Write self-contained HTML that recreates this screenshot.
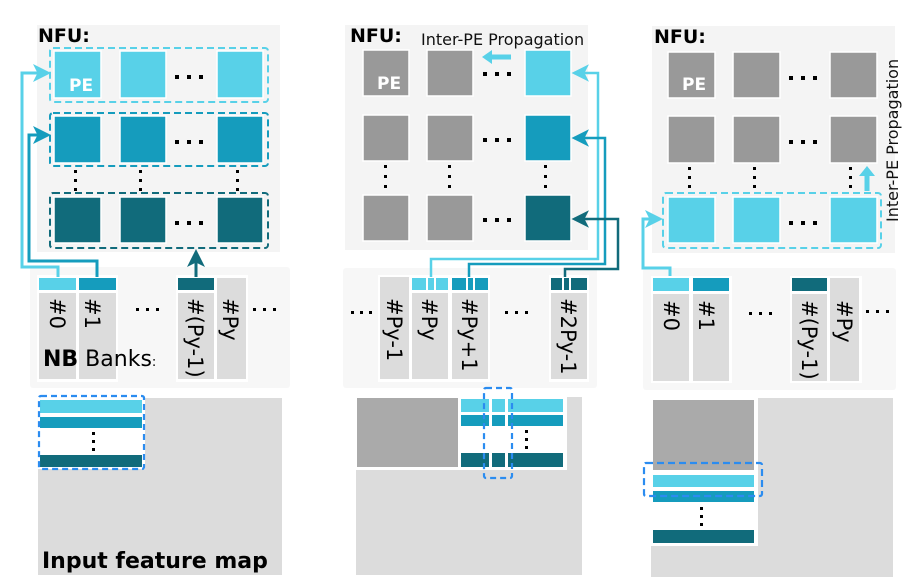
<!DOCTYPE html>
<html><head><meta charset="utf-8"><style>
html,body{margin:0;padding:0;background:#fff;}
svg{display:block;font-family:"DejaVu Sans","Liberation Sans",sans-serif;}
</style></head><body>
<svg width="920" height="580" viewBox="0 0 920 580" xmlns="http://www.w3.org/2000/svg">
<defs>
<marker id="aL" markerWidth="6" markerHeight="6" refX="5" refY="3" orient="auto" markerUnits="strokeWidth"><path d="M0,0 L6,3 L0,6 L1.5,3 z" fill="#58d1e8"/></marker>
<marker id="aM" markerWidth="6" markerHeight="6" refX="5" refY="3" orient="auto" markerUnits="strokeWidth"><path d="M0,0 L6,3 L0,6 L1.5,3 z" fill="#159cbd"/></marker>
<marker id="aD" markerWidth="6" markerHeight="6" refX="5" refY="3" orient="auto" markerUnits="strokeWidth"><path d="M0,0 L6,3 L0,6 L1.5,3 z" fill="#116b7b"/></marker>
<marker id="bL" markerWidth="7" markerHeight="7" refX="6" refY="3.5" orient="auto" markerUnits="strokeWidth"><path d="M0,0 L7,3.5 L0,7 L1.8,3.5 z" fill="#58d1e8"/></marker>
<marker id="bM" markerWidth="7" markerHeight="7" refX="6" refY="3.5" orient="auto" markerUnits="strokeWidth"><path d="M0,0 L7,3.5 L0,7 L1.8,3.5 z" fill="#159cbd"/></marker>
<marker id="bD" markerWidth="7" markerHeight="7" refX="6" refY="3.5" orient="auto" markerUnits="strokeWidth"><path d="M0,0 L7,3.5 L0,7 L1.8,3.5 z" fill="#116b7b"/></marker>
</defs>
<!-- ===== PANEL 1 ===== -->
<rect x="37" y="25" width="243" height="227" fill="#f4f4f4"/>
<text x="38" y="42" font-size="19" font-weight="bold" fill="#000">NFU:</text>
<g stroke="#fff" stroke-width="1.5">
<rect x="54" y="51" width="47" height="47" fill="#58d1e8"/><rect x="120" y="51" width="46" height="47" fill="#58d1e8"/><rect x="217" y="51" width="46" height="47" fill="#58d1e8"/>
<rect x="54" y="116" width="47" height="47" fill="#159cbd"/><rect x="120" y="116" width="46" height="47" fill="#159cbd"/><rect x="217" y="116" width="46" height="47" fill="#159cbd"/>
<rect x="54" y="197" width="47" height="46" fill="#116b7b"/><rect x="120" y="197" width="46" height="46" fill="#116b7b"/><rect x="217" y="197" width="46" height="46" fill="#116b7b"/>
</g>
<text x="69" y="91" font-size="17" font-weight="bold" fill="#fff">PE</text>
<rect x="50" y="48" width="218" height="54" rx="3" fill="none" stroke="#58d1e8" stroke-width="2" stroke-dasharray="7,4"/>
<rect x="50" y="113" width="218" height="53" rx="3" fill="none" stroke="#159cbd" stroke-width="2" stroke-dasharray="7,4"/>
<rect x="50" y="193" width="218" height="55" rx="3" fill="none" stroke="#116b7b" stroke-width="2" stroke-dasharray="7,4"/>
<g fill="#000">
<rect x="175" y="75" width="4" height="4"/><rect x="187" y="75" width="4" height="4"/><rect x="199" y="75" width="4" height="4"/>
<rect x="175" y="140" width="4" height="4"/><rect x="187" y="140" width="4" height="4"/><rect x="199" y="140" width="4" height="4"/>
<rect x="175" y="221" width="4" height="4"/><rect x="187" y="221" width="4" height="4"/><rect x="199" y="221" width="4" height="4"/>
<rect x="74" y="170" width="3" height="3"/><rect x="74" y="179" width="3" height="3"/><rect x="74" y="188" width="3" height="3"/>
<rect x="139" y="170" width="3" height="3"/><rect x="139" y="179" width="3" height="3"/><rect x="139" y="188" width="3" height="3"/>
<rect x="236" y="170" width="3" height="3"/><rect x="236" y="179" width="3" height="3"/><rect x="236" y="188" width="3" height="3"/>
</g>
<rect x="30" y="267" width="260" height="121" rx="3" fill="#f7f7f7"/>
<rect x="37" y="275" width="81" height="107" fill="#fff"/>
<rect x="176" y="275" width="72" height="107" fill="#fff"/>
<rect x="39" y="278" width="37" height="12" fill="#58d1e8"/><rect x="79" y="278" width="37" height="12" fill="#159cbd"/>
<rect x="39" y="293" width="37" height="86" fill="#dcdcdc"/><rect x="79" y="293" width="37" height="86" fill="#dcdcdc"/>
<rect x="178" y="278" width="36" height="12" fill="#116b7b"/>
<rect x="178" y="293" width="36" height="86" fill="#dcdcdc"/><rect x="217" y="278" width="29" height="101" fill="#dcdcdc"/>
<g font-size="21" fill="#000">
<text transform="translate(50,298) rotate(90)">#0</text>
<text transform="translate(85,298) rotate(90)">#1</text>
<text transform="translate(188,298) rotate(90)">#(Py-1)</text>
<text transform="translate(223,298) rotate(90)">#Py</text>
</g>
<g fill="#000">
<rect x="136" y="308" width="3" height="3"/><rect x="146" y="308" width="3" height="3"/><rect x="156" y="308" width="3" height="3"/>
<rect x="253" y="308" width="3" height="3"/><rect x="263" y="308" width="3" height="3"/><rect x="273" y="308" width="3" height="3"/>
</g>
<text x="43" y="366" font-size="22" fill="#000"><tspan font-weight="bold">NB</tspan> Banks<tspan font-size="13">:</tspan></text>
<polyline points="58,277 58,267 22,267 22,73 48,73" fill="none" stroke="#58d1e8" stroke-width="3" marker-end="url(#aL)"/>
<polyline points="97,277 97,261 29,261 29,135 48,135" fill="none" stroke="#159cbd" stroke-width="3" marker-end="url(#aM)"/>
<line x1="196" y1="277" x2="196" y2="252" stroke="#116b7b" stroke-width="3" marker-end="url(#aD)"/>
<rect x="38" y="398" width="244" height="177" fill="#dcdcdc"/>
<rect x="38" y="397" width="107" height="72" fill="#fff"/>
<rect x="40" y="400" width="102" height="13" fill="#58d1e8"/>
<rect x="40" y="417" width="102" height="11" fill="#159cbd"/>
<rect x="40" y="455" width="102" height="12" fill="#116b7b"/>
<g fill="#000"><rect x="92" y="432" width="3" height="3"/><rect x="92" y="440" width="3" height="3"/><rect x="92" y="448" width="3" height="3"/></g>
<rect x="39" y="396" width="105" height="73" rx="2" fill="none" stroke="#2b8cf0" stroke-width="2.2" stroke-dasharray="6,4"/>
<text x="42" y="568" font-size="22" font-weight="bold" fill="#000">Input feature map</text>

<!-- ===== PANEL 2 ===== -->
<rect x="345" y="25" width="243" height="225" fill="#f4f4f4"/>
<text x="350" y="42" font-size="19" font-weight="bold" fill="#000">NFU:</text>
<text x="421" y="45" font-size="16" fill="#111">Inter-PE Propagation</text>
<g stroke="#fff" stroke-width="1.5">
<rect x="363" y="50" width="46" height="46" fill="#999"/><rect x="427" y="50" width="46" height="46" fill="#999"/><rect x="525" y="50" width="46" height="46" fill="#58d1e8"/>
<rect x="363" y="115" width="46" height="46" fill="#999"/><rect x="427" y="115" width="46" height="46" fill="#999"/><rect x="525" y="115" width="46" height="46" fill="#159cbd"/>
<rect x="363" y="195" width="46" height="46" fill="#999"/><rect x="427" y="195" width="46" height="46" fill="#999"/><rect x="525" y="195" width="46" height="46" fill="#116b7b"/>
</g>
<text x="377" y="89" font-size="17" font-weight="bold" fill="#fff">PE</text>
<line x1="511" y1="57" x2="488" y2="57" stroke="#58d1e8" stroke-width="5"/>
<path d="M482,57 L492,50 L492,64 z" fill="#58d1e8"/>
<g fill="#000">
<rect x="483" y="72" width="4" height="4"/><rect x="495" y="72" width="4" height="4"/><rect x="507" y="72" width="4" height="4"/>
<rect x="483" y="138" width="4" height="4"/><rect x="495" y="138" width="4" height="4"/><rect x="507" y="138" width="4" height="4"/>
<rect x="483" y="218" width="4" height="4"/><rect x="495" y="218" width="4" height="4"/><rect x="507" y="218" width="4" height="4"/>
<rect x="384" y="165" width="3" height="3"/><rect x="384" y="175" width="3" height="3"/><rect x="384" y="185" width="3" height="3"/>
<rect x="448" y="165" width="3" height="3"/><rect x="448" y="175" width="3" height="3"/><rect x="448" y="185" width="3" height="3"/>
<rect x="544" y="165" width="3" height="3"/><rect x="544" y="175" width="3" height="3"/><rect x="544" y="185" width="3" height="3"/>
</g>
<rect x="343" y="268" width="254" height="120" rx="3" fill="#f7f7f7"/>
<rect x="378" y="275" width="112" height="107" fill="#fff"/>
<rect x="549" y="275" width="40" height="107" fill="#fff"/>
<rect x="380" y="277" width="29" height="102" fill="#dcdcdc"/>
<rect x="412" y="278" width="36" height="12" fill="#58d1e8"/><rect x="452" y="278" width="36" height="12" fill="#159cbd"/><rect x="551" y="278" width="36" height="12" fill="#116b7b"/>
<g fill="#fff"><rect x="426" y="278" width="2" height="12"/><rect x="434" y="278" width="2" height="12"/><rect x="466" y="278" width="2" height="12"/><rect x="473" y="278" width="2" height="12"/><rect x="562" y="278" width="2" height="12"/><rect x="569" y="278" width="2" height="12"/></g>
<rect x="412" y="293" width="36" height="86" fill="#dcdcdc"/><rect x="452" y="293" width="36" height="86" fill="#dcdcdc"/><rect x="551" y="293" width="36" height="86" fill="#dcdcdc"/>
<g font-size="21" fill="#000">
<text transform="translate(387,298) rotate(90)">#Py-1</text>
<text transform="translate(422,298) rotate(90)">#Py</text>
<text transform="translate(462,298) rotate(90)">#Py+1</text>
<text transform="translate(561,298) rotate(90)">#2Py-1</text>
</g>
<g fill="#000">
<rect x="351" y="311" width="3" height="3"/><rect x="360" y="311" width="3" height="3"/><rect x="369" y="311" width="3" height="3"/>
<rect x="505" y="311" width="3" height="3"/><rect x="515" y="311" width="3" height="3"/><rect x="525" y="311" width="3" height="3"/>
</g>
<polyline points="431,277 431,259 598,259 598,73 574,73" fill="none" stroke="#58d1e8" stroke-width="2.5" marker-end="url(#bL)"/>
<polyline points="469,277 469,264 605,264 605,138 574,138" fill="none" stroke="#159cbd" stroke-width="2.5" marker-end="url(#bM)"/>
<polyline points="565,277 565,269 618,269 618,219 574,219" fill="none" stroke="#116b7b" stroke-width="2.5" marker-end="url(#bD)"/>
<rect x="356" y="397" width="226" height="178" fill="#dcdcdc"/>
<rect x="356" y="397" width="211" height="73" fill="#fff"/>
<rect x="357" y="398" width="101" height="69" fill="#aaa"/>
<g>
<rect x="461" y="399" width="102" height="13" fill="#58d1e8"/>
<rect x="461" y="415" width="102" height="11" fill="#159cbd"/>
<rect x="461" y="453" width="102" height="14" fill="#116b7b"/>
<rect x="489" y="398" width="3" height="70" fill="#fff"/><rect x="505" y="398" width="3" height="70" fill="#fff"/>
</g>
<g fill="#000"><rect x="525" y="430" width="3" height="3"/><rect x="525" y="438" width="3" height="3"/><rect x="525" y="446" width="3" height="3"/></g>
<rect x="484" y="388" width="28" height="90" rx="2" fill="none" stroke="#2b8cf0" stroke-width="2.2" stroke-dasharray="6,4"/>

<!-- ===== PANEL 3 ===== -->
<rect x="652" y="26" width="243" height="227" fill="#f4f4f4"/>
<text x="654" y="43" font-size="19" font-weight="bold" fill="#000">NFU:</text>
<g stroke="#fff" stroke-width="1.5">
<rect x="668" y="52" width="47" height="46" fill="#999"/><rect x="733" y="52" width="47" height="46" fill="#999"/><rect x="830" y="52" width="47" height="46" fill="#999"/>
<rect x="668" y="116" width="47" height="47" fill="#999"/><rect x="733" y="116" width="47" height="47" fill="#999"/><rect x="830" y="116" width="47" height="47" fill="#999"/>
<rect x="668" y="197" width="47" height="46" fill="#58d1e8"/><rect x="733" y="197" width="47" height="46" fill="#58d1e8"/><rect x="830" y="197" width="47" height="46" fill="#58d1e8"/>
</g>
<text x="682" y="90" font-size="17" font-weight="bold" fill="#fff">PE</text>
<rect x="663" y="193" width="218" height="55" rx="3" fill="none" stroke="#58d1e8" stroke-width="2" stroke-dasharray="7,4"/>
<g fill="#000">
<rect x="789" y="76" width="4" height="4"/><rect x="801" y="76" width="4" height="4"/><rect x="813" y="76" width="4" height="4"/>
<rect x="789" y="140" width="4" height="4"/><rect x="801" y="140" width="4" height="4"/><rect x="813" y="140" width="4" height="4"/>
<rect x="789" y="221" width="4" height="4"/><rect x="801" y="221" width="4" height="4"/><rect x="813" y="221" width="4" height="4"/>
<rect x="688" y="167" width="3" height="3"/><rect x="688" y="176" width="3" height="3"/><rect x="688" y="185" width="3" height="3"/>
<rect x="753" y="167" width="3" height="3"/><rect x="753" y="176" width="3" height="3"/><rect x="753" y="185" width="3" height="3"/>
<rect x="849" y="167" width="3" height="3"/><rect x="849" y="176" width="3" height="3"/><rect x="849" y="185" width="3" height="3"/>
</g>
<line x1="867" y1="191" x2="867" y2="175" stroke="#58d1e8" stroke-width="5"/>
<path d="M867,166 L875,176 L859,176 z" fill="#58d1e8"/>
<text transform="translate(898,222) rotate(-90)" font-size="16" fill="#111">Inter-PE Propagation</text>
<rect x="643" y="268" width="253" height="122" rx="3" fill="#f7f7f7"/>
<polyline points="670,278 670,268 643,268 643,219 660,219" fill="none" stroke="#58d1e8" stroke-width="3" marker-end="url(#aL)"/>
<rect x="651" y="276" width="81" height="107" fill="#fff"/>
<rect x="790" y="276" width="72" height="107" fill="#fff"/>
<rect x="653" y="278" width="36" height="13" fill="#58d1e8"/><rect x="693" y="278" width="36" height="13" fill="#159cbd"/>
<rect x="653" y="294" width="36" height="87" fill="#dcdcdc"/><rect x="693" y="294" width="36" height="87" fill="#dcdcdc"/>
<rect x="792" y="278" width="35" height="13" fill="#116b7b"/>
<rect x="792" y="294" width="35" height="87" fill="#dcdcdc"/><rect x="830" y="278" width="29" height="103" fill="#dcdcdc"/>
<g font-size="21" fill="#000">
<text transform="translate(664,300) rotate(90)">#0</text>
<text transform="translate(699,300) rotate(90)">#1</text>
<text transform="translate(802,300) rotate(90)">#(Py-1)</text>
<text transform="translate(837,300) rotate(90)">#Py</text>
</g>
<g fill="#000">
<rect x="749" y="312" width="3" height="3"/><rect x="759" y="312" width="3" height="3"/><rect x="769" y="312" width="3" height="3"/>
<rect x="866" y="310" width="3" height="3"/><rect x="876" y="310" width="3" height="3"/><rect x="886" y="310" width="3" height="3"/>
</g>
<rect x="651" y="398" width="242" height="179" fill="#dcdcdc"/>
<rect x="651" y="398" width="107" height="148" fill="#fff"/>
<rect x="653" y="400" width="101" height="70" fill="#aaa"/>
<rect x="653" y="475" width="101" height="12" fill="#58d1e8"/>
<rect x="653" y="491" width="101" height="11" fill="#159cbd"/>
<rect x="653" y="530" width="101" height="13" fill="#116b7b"/>
<g fill="#000"><rect x="700" y="507" width="3" height="3"/><rect x="700" y="515" width="3" height="3"/><rect x="700" y="523" width="3" height="3"/></g>
<rect x="644" y="463" width="118" height="33" rx="2" fill="none" stroke="#2b8cf0" stroke-width="2.2" stroke-dasharray="7,4"/>
</svg>
</body></html>
